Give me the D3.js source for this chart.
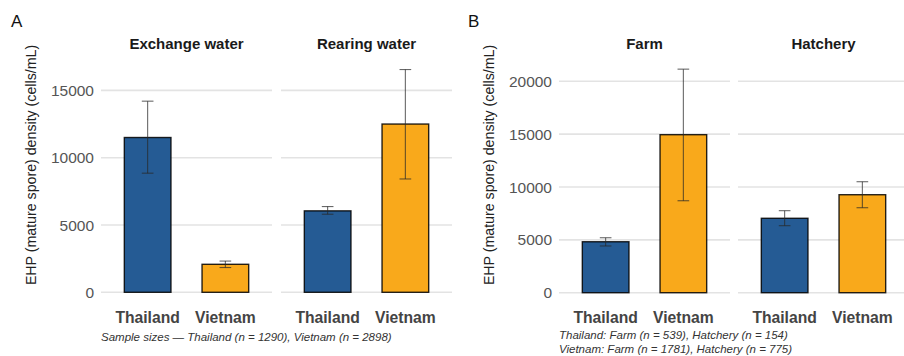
<!DOCTYPE html>
<html>
<head>
<meta charset="utf-8">
<script src="https://cdn.jsdelivr.net/npm/d3@7"></script>
<style>
  body { margin: 0; background: #fff; }
  svg { display: block; font-family: "Liberation Sans", Arial, sans-serif; }
</style>
</head>
<body>
<svg id="chart" width="904" height="356"></svg>
<script>
// Data
const countries = ['Thailand', 'Vietnam'];
const colors = ['#255b94', '#f9a91b'];

const panelAFacets = ['Exchange water', 'Rearing water'];
const panelAMeans = [[11500, 2080], [6050, 12500]];
const panelALow = [[8850, 1840], [5800, 8420]];
const panelAHigh = [[14200, 2320], [6370, 16550]];
const panelATicks = [0, 5000, 10000, 15000];

const panelBFacets = ['Farm', 'Hatchery'];
const panelBMeans = [[4820, 14950], [7040, 9270]];
const panelBLow = [[4420, 8700], [6340, 8040]];
const panelBHigh = [[5200, 21150], [7760, 10500]];
const panelBTicks = [0, 5000, 10000, 15000, 20000];

const yTitle = 'EHP (mature spore) density (cells/mL)';

const svg = d3.select('#chart');

function drawPanel(opts) {
    const g = svg.append('g');
    const y = d3.scaleLinear()
        .domain([0, opts.yMax])
        .range([opts.y0, opts.y0 - opts.yMax * opts.pxPer5000 / 5000]);

    // panel tag
    g.append('text')
        .attr('x', opts.tagX).attr('y', 27)
        .attr('font-size', 17).attr('fill', '#111')
        .text(opts.tag);

    // y title
    g.append('text')
        .attr('transform', `translate(${opts.titleX},165) rotate(-90)`)
        .attr('text-anchor', 'middle')
        .attr('font-size', 14.2).attr('fill', '#222')
        .text(yTitle);

    // y tick labels
    g.selectAll('.ytick')
        .data(opts.ticks)
        .join('text')
        .attr('x', opts.facetX[0] - 7)
        .attr('y', d => y(d) + 5.5)
        .attr('text-anchor', 'end')
        .attr('font-size', 15.5).attr('fill', '#555')
        .text(d => d);

    opts.facets.forEach((name, fi) => {
        const x0 = opts.facetX[fi];
        // ggplot-like discrete axis: expand 0.6 on each side
        const x = d3.scaleLinear()
            .domain([0.4, 2.6])
            .range([x0, x0 + opts.facetW]);
        const unit = x(2) - x(1);
        const cx = c => x(countries.indexOf(c) + 1);
        const bw = 0.6 * unit;
        const cw = 0.15 * unit;

        const fg = g.append('g');

        fg.selectAll('line.grid')
            .data(opts.ticks)
            .join('line')
            .attr('x1', x0).attr('x2', x0 + opts.facetW)
            .attr('y1', d => y(d)).attr('y2', d => y(d))
            .attr('stroke', '#e3e3e3').attr('stroke-width', 1.6);

        fg.append('text')
            .attr('x', x0 + opts.facetW / 2).attr('y', 49)
            .attr('text-anchor', 'middle')
            .attr('font-size', 15).attr('font-weight', 'bold').attr('fill', '#1a1a1a')
            .text(name);

        const rows = countries.map((c, i) => ({
            c, i,
            mean: opts.means[fi][i],
            lo: opts.low[fi][i],
            hi: opts.high[fi][i]
        }));

        fg.selectAll('rect')
            .data(rows)
            .join('rect')
            .attr('x', d => cx(d.c) - bw / 2)
            .attr('width', bw)
            .attr('y', d => y(d.mean))
            .attr('height', d => y(0) - y(d.mean))
            .attr('fill', d => colors[d.i])
            .attr('stroke', 'rgba(0,0,0,0.85)')
            .attr('stroke-width', 1.4);

        const eb = fg.selectAll('g.eb')
            .data(rows)
            .join('g')
            .attr('stroke', 'rgba(40,40,40,0.7)')
            .attr('stroke-width', 1.1);
        eb.append('line')
            .attr('x1', d => cx(d.c)).attr('x2', d => cx(d.c))
            .attr('y1', d => y(d.lo)).attr('y2', d => y(d.hi));
        eb.append('line')
            .attr('x1', d => cx(d.c) - cw / 2).attr('x2', d => cx(d.c) + cw / 2)
            .attr('y1', d => y(d.lo)).attr('y2', d => y(d.lo));
        eb.append('line')
            .attr('x1', d => cx(d.c) - cw / 2).attr('x2', d => cx(d.c) + cw / 2)
            .attr('y1', d => y(d.hi)).attr('y2', d => y(d.hi));

        fg.selectAll('text.xl')
            .data(countries)
            .join('text')
            .attr('x', d => cx(d)).attr('y', 323)
            .attr('text-anchor', 'middle')
            .attr('font-size', 15.7).attr('font-weight', 'bold').attr('fill', '#444')
            .text(d => d);
    });

    opts.caption.forEach((line, i) => {
        g.append('text')
            .attr('x', opts.facetX[0]).attr('y', opts.captionY + i * 14)
            .attr('font-size', 11.5).attr('font-style', 'italic').attr('fill', '#333')
            .text(line);
    });
}

drawPanel({
    tag: 'A', tagX: 11, titleX: 36,
    facets: panelAFacets, facetX: [101, 281], facetW: 171,
    means: panelAMeans, low: panelALow, high: panelAHigh,
    ticks: panelATicks, yMax: 17500, y0: 292.3, pxPer5000: 67.3,
    caption: ['Sample sizes \u2014 Thailand (n = 1290), Vietnam (n = 2898)'],
    captionY: 341
});

drawPanel({
    tag: 'B', tagX: 468, titleX: 494,
    facets: panelBFacets, facetX: [559, 738], facetW: 171,
    means: panelBMeans, low: panelBLow, high: panelBHigh,
    ticks: panelBTicks, yMax: 22000, y0: 292.7, pxPer5000: 52.85,
    caption: ['Thailand: Farm (n = 539), Hatchery (n = 154)',
              'Vietnam: Farm (n = 1781), Hatchery (n = 775)'],
    captionY: 339
});
</script>
</body>
</html>
